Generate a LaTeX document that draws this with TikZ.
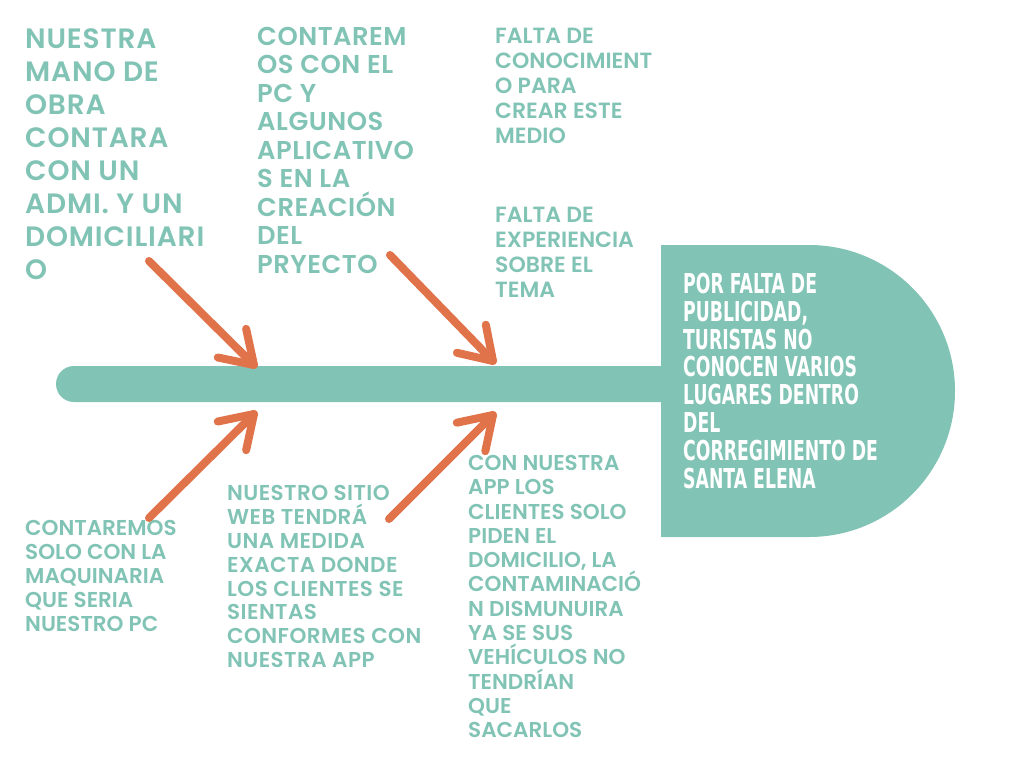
\documentclass[tikz,border=0pt]{standalone}
\usepackage{fontspec}
\usetikzlibrary{calc}
\newfontfamily\bodyfont{Poppins SemiBold}
\newfontfamily\bodyfontb{Poppins SemiBold}[LetterSpace=2]
\newfontfamily\bodyfontc{Poppins SemiBold}[LetterSpace=3]
\newfontfamily\headfont{DejaVu Sans}[FakeStretch=0.63]
\definecolor{tealc}{HTML}{81C4B5}
\definecolor{orng}{HTML}{E1734A}
\tikzset{
  lbl/.style={anchor=north west, inner sep=0pt, align=left, text=tealc},
  arrline/.style={draw=orng, line width=8pt, line cap=round, line join=round},
}
\newcommand{\chev}[2]{%
  \draw[arrline] (#1) -- (#2);
  \draw[arrline] ($(#2)!37pt!33:(#1)$) -- (#2) -- ($(#2)!37pt!-33:(#1)$);}
\begin{document}
\begin{tikzpicture}[x=1pt,y=-1pt]
\useasboundingbox (0,0) rectangle (1024,768);
\fill[white] (0,0) rectangle (1024,768);
% spine
\fill[tealc, rounded corners=18pt] (56,366) rectangle (700,402);
% head
\fill[tealc] (661,245) -- (809,245) arc[start angle=90, end angle=-90, radius=146pt] -- (661,537) -- cycle;
\node[anchor=north west, inner sep=0pt, align=left, text=white,
      font=\headfont\bfseries\fontsize{27.4}{27.8}\selectfont] (head) at (683,273)
  {POR FALTA DE\\PUBLICIDAD,\\TURISTAS NO\\CONOCEN VARIOS\\LUGARES DENTRO\\DEL\\CORREGIMIENTO DE\\SANTA ELENA};
% cause texts
\node[lbl, font=\bodyfontc\fontsize{28}{33}\selectfont] (t1) at (25,28)
  {NUESTRA\\MANO DE\\OBRA\\CONTARA\\CON UN\\ADMI. Y UN\\DOMICILIARI\\O};
\node[lbl, font=\bodyfontb\fontsize{25.8}{28.5}\selectfont] (t2) at (257,27)
  {CONTAREM\\OS CON EL\\PC Y\\ALGUNOS\\APLICATIVO\\S EN LA\\CREACIÓN\\DEL\\PRYECTO};
\node[lbl, font=\bodyfont\fontsize{22}{25}\selectfont] (t3) at (495,28)
  {FALTA DE\\CONOCIMIENT\\O PARA\\CREAR ESTE\\MEDIO};
\node[lbl, font=\bodyfont\fontsize{22}{25}\selectfont] (t4) at (495,207)
  {FALTA DE\\EXPERIENCIA\\SOBRE EL\\TEMA};
\node[lbl, font=\bodyfont\fontsize{21.5}{24}\selectfont] (t5) at (25,520)
  {CONTAREMOS\\SOLO CON LA\\MAQUINARIA\\QUE SERIA\\NUESTRO PC};
\node[lbl, font=\bodyfontb\fontsize{21.5}{23.9}\selectfont] (t6) at (227,485)
  {NUESTRO SITIO\\WEB TENDRÁ\\UNA MEDIDA\\EXACTA DONDE\\LOS CLIENTES SE\\SIENTAS\\CONFORMES CON\\NUESTRA APP};
\node[lbl, font=\bodyfont\fontsize{21.5}{24.3}\selectfont] (t7) at (468,455)
  {CON NUESTRA\\APP LOS\\CLIENTES SOLO\\PIDEN EL\\DOMICILIO, LA\\CONTAMINACIÓ\\N DISMUNUIRA\\YA SE SUS\\VEHÍCULOS NO\\TENDRÍAN\\QUE\\SACARLOS};
% arrows
\coordinate (s1) at (149,261); \coordinate (e1) at (254,365);
\coordinate (s2) at (390,255); \coordinate (e2) at (493,361);
\coordinate (s3) at (149,518); \coordinate (e3) at (254,414);
\coordinate (s4) at (389,519); \coordinate (e4) at (493,415);
\chev{s1}{e1}
\chev{s2}{e2}
\chev{s3}{e3}
\chev{s4}{e4}
\end{tikzpicture}
\end{document}
